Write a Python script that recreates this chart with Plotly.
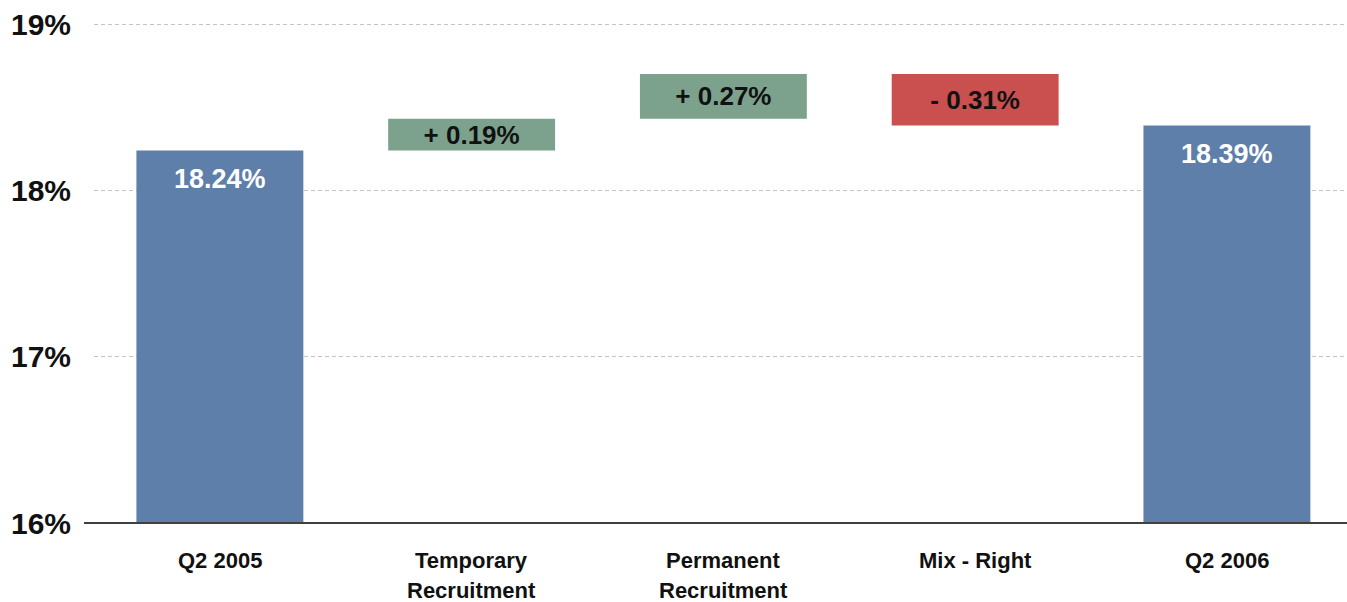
import plotly.graph_objects as go

categories = ["Q2 2005", "Temporary<br>Recruitment", "Permanent<br>Recruitment", "Mix - Right", "Q2 2006"]
measures = ["absolute", "relative", "relative", "relative", "total"]
values = [18.24, 0.19, 0.27, -0.31, None]
total_values = [18.24, None, None, None, 18.39]
y_ticks = [16, 17, 18, 19]

BLUE = "#5E7FA9"
GREEN = "#7CA28E"
RED = "#C9504F"
FONT = "Liberation Sans"

def fmt_delta(v):
    return ("+ " if v > 0 else "- ") + f"{abs(v):.2f}%"

texts = [fmt_delta(v) if m == "relative" else "" for m, v in zip(measures, values)]

fig = go.Figure()
fig.add_trace(go.Waterfall(
    x=list(range(len(categories))),
    measure=measures,
    y=[v if v is not None else 0 for v in values],
    text=texts,
    textposition="inside",
    insidetextanchor="middle",
    constraintext="none",
    textfont=dict(family=FONT, size=26, color="#111111", weight="bold"),
    increasing=dict(marker=dict(color=GREEN)),
    decreasing=dict(marker=dict(color=RED)),
    totals=dict(marker=dict(color=BLUE)),
    connector=dict(visible=False),
    hoverinfo="skip",
))

# white labels inside the total bars
for i, v in enumerate(total_values):
    if v is not None:
        fig.add_annotation(x=i, y=v, xref="x", yref="y", text=f"{v:.2f}%",
                           showarrow=False, yanchor="middle", yshift=-29,
                           font=dict(family=FONT, size=27, color="white", weight="bold"))

# category labels under the axis
for i, c in enumerate(categories):
    for j, line in enumerate(c.split("<br>")):
        fig.add_annotation(x=i, y=0, xref="x", yref="paper", text=line,
                           showarrow=False, yanchor="middle", yshift=-37 - 30 * j,
                           borderpad=0,
                           font=dict(family=FONT, size=22, color="#111111", weight="bold"))

# axis baseline extends slightly to the left of the plot area
fig.add_shape(type="line", xref="paper", yref="paper", x0=-10 / 1253, x1=1, y0=0, y1=0,
              line=dict(color="#404040", width=2), layer="above")

fig.update_layout(
    width=1347, height=602,
    margin=dict(l=94, r=0, t=20, b=79),
    plot_bgcolor="white", paper_bgcolor="white",
    showlegend=False,
    waterfallgap=0.337,
    font=dict(family=FONT, color="#111111"),
    xaxis=dict(range=[-0.5, 4.477], showticklabels=False, showgrid=False, zeroline=False,
               showline=False, ticks=""),
    yaxis=dict(range=[16, 19.0241], tickvals=y_ticks, ticktext=[f"{t}%" for t in y_ticks],
               showgrid=True, gridcolor="#C4C4C4", griddash="4px,3px", gridwidth=1,
               zeroline=False, showline=False, ticks="", ticklabelstandoff=22,
               tickfont=dict(family=FONT, size=30, color="#111111", weight="bold")),
)

fig.write_html("out.html")
